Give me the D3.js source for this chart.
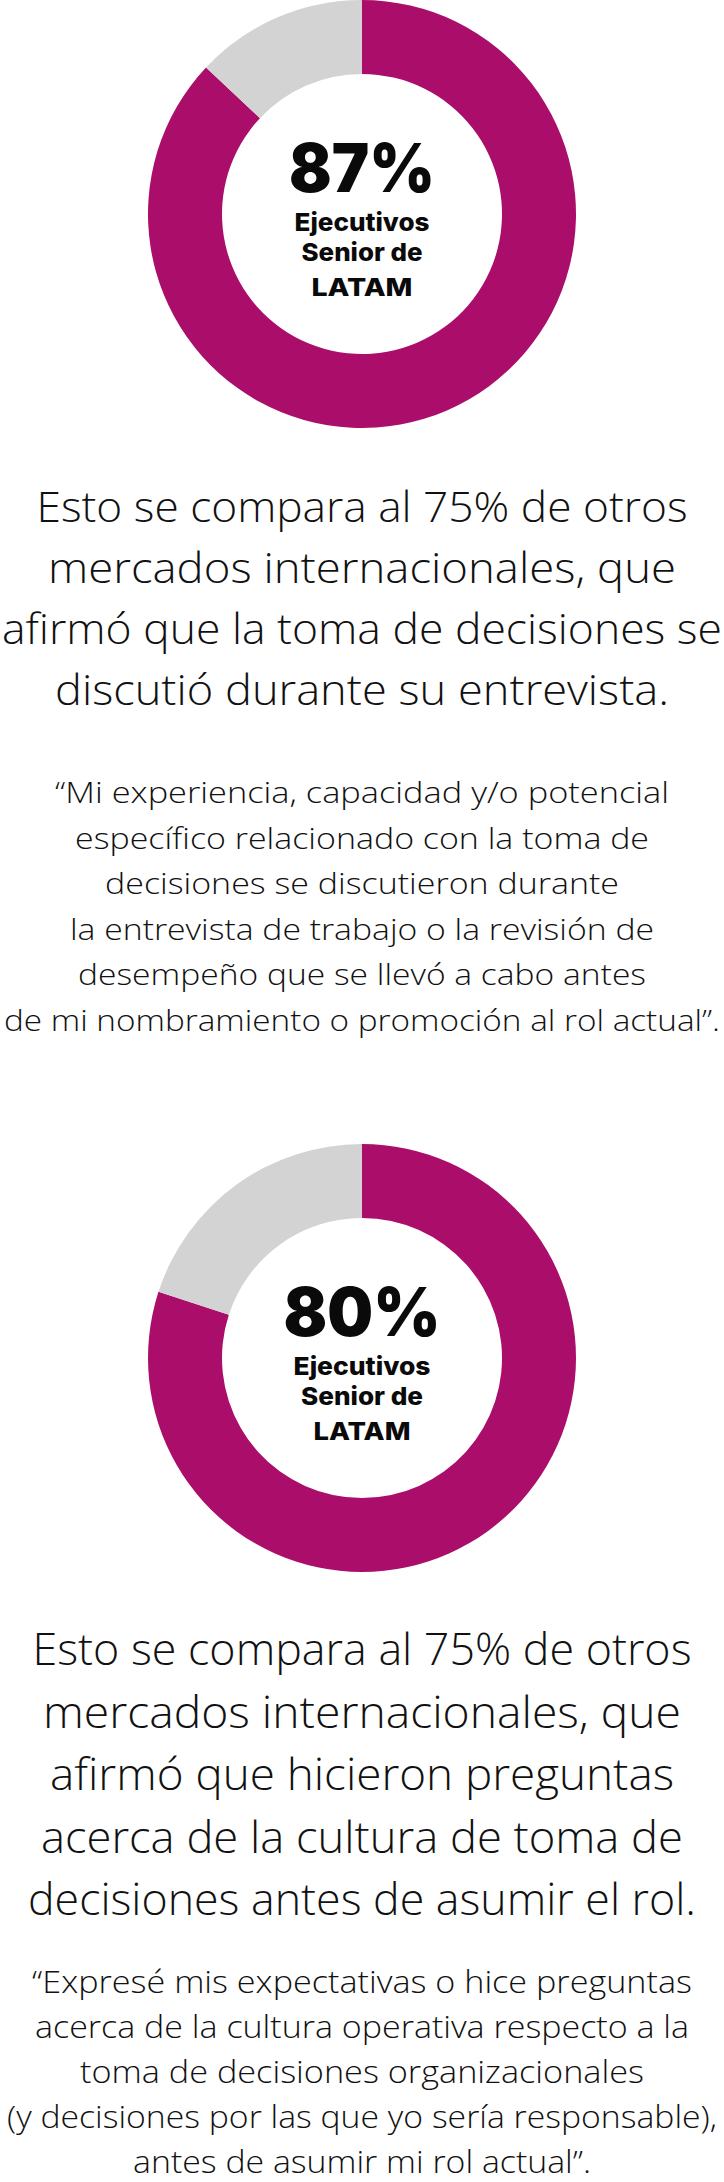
<!DOCTYPE html>
<html>
<head>
<meta charset="utf-8">
<script src="https://cdn.jsdelivr.net/npm/d3@7"></script>
<style>
  html, body { margin: 0; padding: 0; background: #fff; }
  svg { display: block; }
</style>
</head>
<body>
<div id="chart"></div>
<script>
// share of senior LATAM executives (yes / rest)
const sharesDecision = [87, 13];
const sharesQuestions = [80, 20];
const sliceNames = ["si", "resto"];
const centerLabel = ["Ejecutivos", "Senior de", "LATAM"];

const headline1 = [
  "Esto se compara al 75% de otros",
  "mercados internacionales, que",
  "afirmó que la toma de decisiones se",
  "discutió durante su entrevista."
];
const quote1 = [
  "\u201CMi experiencia, capacidad y/o potencial",
  "específico relacionado con la toma de",
  "decisiones se discutieron durante",
  "la entrevista de trabajo o la revisión de",
  "desempeño que se llevó a cabo antes",
  "de mi nombramiento o promoción al rol actual\u201D."
];
const headline2 = [
  "Esto se compara al 75% de otros",
  "mercados internacionales, que",
  "afirmó que hicieron preguntas",
  "acerca de la cultura de toma de",
  "decisiones antes de asumir el rol."
];
const quote2 = [
  "\u201CExpresé mis expectativas o hice preguntas",
  "acerca de la cultura operativa respecto a la",
  "toma de decisiones organizacionales",
  "(y decisiones por las que yo sería responsable),",
  "antes de asumir mi rol actual\u201D."
];

// layout
const W = 724, H = 2182, cx = 362;
const colors = d3.scaleOrdinal().domain(sliceNames).range(["#ab0d6b", "#d3d3d3"]);

const svg = d3.select("#chart").append("svg")
  .attr("width", W)
  .attr("height", H)
  .style("background", "#fff");

const pie = d3.pie().sort(null).value(d => d.value);
const arc = d3.arc().innerRadius(140).outerRadius(214);

function drawDonut(shares, cy, pctWidth, labelWidths) {
  let data = shares.map((v, i) => ({ name: sliceNames[i], value: v }));
  let g = svg.append("g").attr("transform", "translate(" + cx + "," + cy + ")");

  g.selectAll("path")
    .data(pie(data))
    .join("path")
    .attr("d", arc)
    .attr("fill", d => colors(d.data.name));

  //big percentage in the hole
  g.append("text")
    .attr("x", 0)
    .attr("y", -22)
    .attr("text-anchor", "middle")
    .attr("font-family", "Inter, Lato, 'DejaVu Sans', sans-serif")
    .attr("font-weight", 900)
    .attr("font-size", 67)
    .attr("fill", "#0a0a0a")
    .attr("textLength", pctWidth)
    .attr("lengthAdjust", "spacingAndGlyphs")
    .text(shares[0] + "%");

  let offsets = [17, 47, 82];
  g.selectAll("text.lbl")
    .data(centerLabel)
    .join("text")
    .attr("class", "lbl")
    .attr("x", 0)
    .attr("y", (d, i) => offsets[i])
    .attr("text-anchor", "middle")
    .attr("font-family", "Inter, Lato, 'DejaVu Sans', sans-serif")
    .attr("font-weight", 800)
    .attr("font-size", 24.5)
    .attr("fill", "#0a0a0a")
    .attr("textLength", (d, i) => labelWidths[i])
    .attr("lengthAdjust", "spacingAndGlyphs")
    .text(d => d);
}

function drawLines(lines, y0, step, size, widths) {
  svg.append("g")
    .selectAll("text")
    .data(lines)
    .join("text")
    .attr("x", cx)
    .attr("y", (d, i) => y0 + i * step)
    .attr("text-anchor", "middle")
    .attr("font-family", "'Open Sans', Lato, sans-serif")
    .attr("font-weight", 300)
    .attr("font-size", size)
    .attr("fill", "#111")
    .attr("textLength", (d, i) => widths[i])
    .attr("lengthAdjust", "spacingAndGlyphs")
    .text(d => d);
}

drawDonut(sharesDecision, 214, 146, [135, 121, 101]);
drawLines(headline1, 522, 61, 42, [651, 628, 720, 614]);
drawLines(quote1, 803, 45.6, 29, [614, 574, 514, 584, 568, 716]);

drawDonut(sharesQuestions, 1358, 157, [137, 122, 97]);
drawLines(headline2, 1665, 62.5, 44, [659, 638, 624, 642, 668]);
drawLines(quote2, 1993, 45, 30.5, [660, 654, 564, 710, 458]);
</script>
</body>
</html>
